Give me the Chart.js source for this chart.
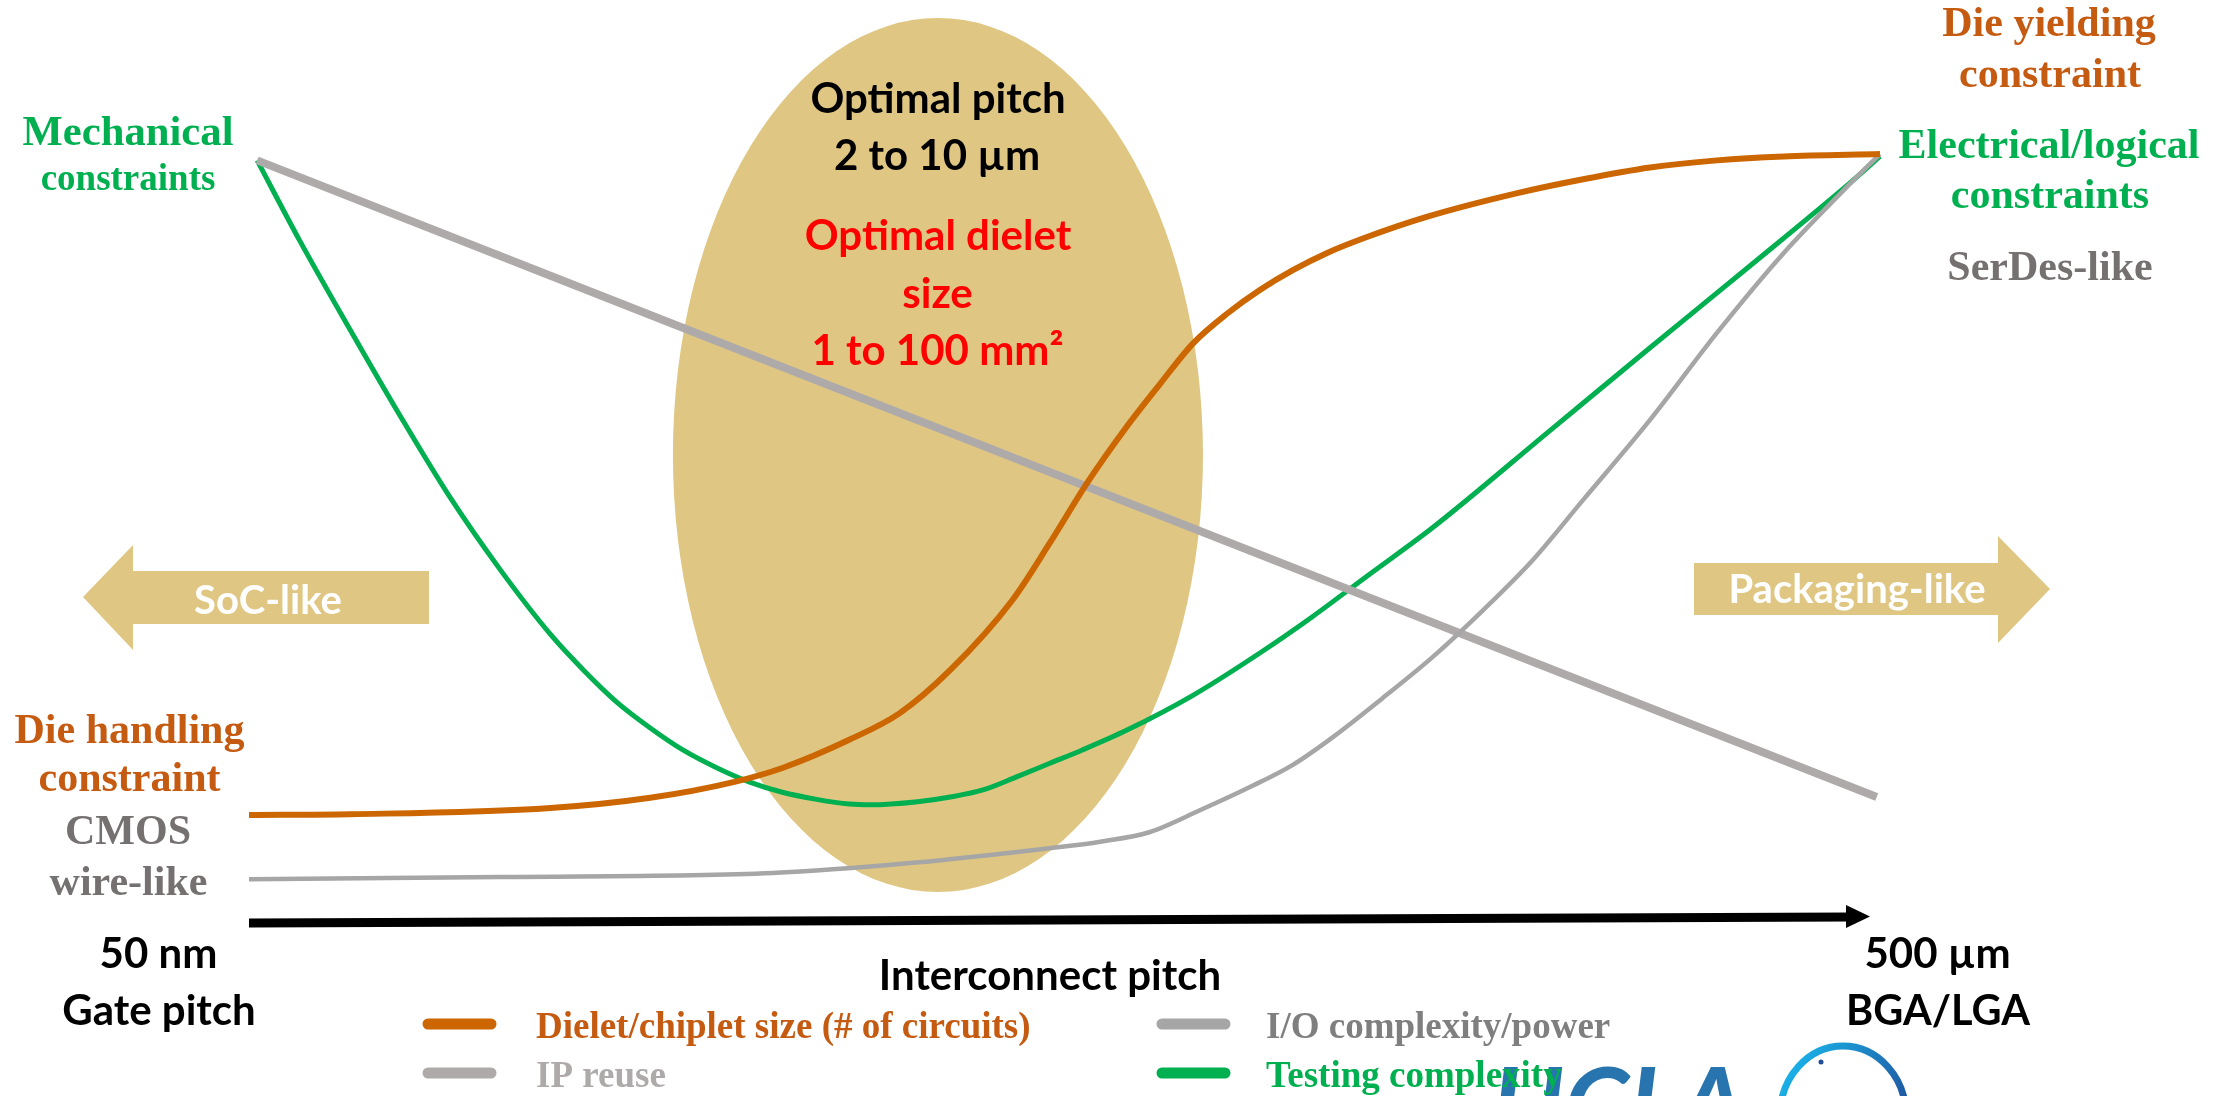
<!DOCTYPE html>
<html>
<head>
<meta charset="utf-8">
<script src="https://cdn.jsdelivr.net/npm/chart.js@4.4.1/dist/chart.umd.min.js"></script>
<style>
  html, body { margin: 0; padding: 0; background: #fff; }
  #wrap { width: 2235px; height: 1096px; }
</style>
</head>
<body>
<div id="wrap"><canvas id="chart" width="2235" height="1096"></canvas></div>
<script>
// values: [x, y]
// x = position along the interconnect pitch axis (0 = 50 nm, 100 = 500 µm), y = relative level (0..100)
const dieletSize = [[0, 13.9], [6.2, 14], [18.5, 14.8], [24.6, 16.1], [29.7, 18.1], [32.7, 19.9], [36.8, 23.5], [39.9, 26.9], [43, 32.4], [46.8, 41.3], [49.1, 48.6], [51.4, 56.3], [53.8, 63.4], [55.9, 69], [57.9, 74.1], [60, 77.9], [62, 80.9], [64, 83.4], [66.1, 85.6], [68.5, 87.6], [72.2, 90.2], [77.7, 93.2], [81.8, 95], [85.9, 96.5], [90, 97.4], [94.1, 97.9], [100, 98.2]]
const ioComplexity = [[0, 5.7], [15.4, 6], [32.1, 6.5], [40.7, 7.8], [49.2, 9.7], [52.2, 10.5], [55.2, 11.7], [58.3, 14.5], [61.4, 17.5], [64, 20.3], [66.5, 23.9], [69.5, 28.8], [72.6, 34.1], [75.7, 40.1], [78.7, 46.4], [81.8, 54.1], [85.9, 64.3], [90, 75.4], [94.1, 85.6], [98.2, 94.5], [100, 98.2]]
const ipReuse = [[0.5, 97.4], [99.8, 16.2]]
const testingComplexity = [[0.5, 97.4], [3.1, 87.2], [6.2, 75.8], [9.3, 64.7], [12.3, 54.5], [15.4, 45.2], [18.5, 36.9], [20.5, 32.4], [22.6, 28.2], [24.6, 25], [26.6, 22.2], [28.7, 19.9], [30.7, 18.1], [32.7, 16.8], [34.8, 15.9], [36.8, 15.3], [38.1, 15.2], [41, 15.6], [43, 16.2], [45, 17.1], [47.1, 18.8], [49.1, 20.5], [51.1, 22.2], [53.8, 24.7], [57.9, 29.2], [62, 34.6], [65.2, 39.2], [68.5, 44.3], [72.6, 50.6], [79.8, 63], [85.9, 73.5], [92, 83.9], [98.2, 94.6], [100, 97.9]]

const seriesLabels = ['Dielet/chiplet size (# of circuits)', 'I/O complexity/power', 'IP reuse', 'Testing complexity']
const axisLabels = { left: ['50 nm', 'Gate pitch'], right: ['500 µm', 'BGA/LGA'], title: 'Interconnect pitch' }

// optimal zone, in data units
const optimalZone = { x: 42.24, y: 59.82, rx: 16.25, ry: 55.74 }

const TAN = '#DFC783'
const SERIF = '"Liberation Serif", "Times New Roman", serif'
const SANS = 'Lato, "Open Sans", sans-serif'

const toPts = arr => arr.map(([x, y]) => ({ x, y }))

function txt(ctx, s, x, y, font, color, maxW, align) {
  ctx.font = font
  ctx.fillStyle = color
  ctx.textAlign = align || 'center'
  ctx.textBaseline = 'alphabetic'
  if (maxW) ctx.fillText(s, x, y, maxW)
  else ctx.fillText(s, x, y)
}

function poly(ctx, pts, color) {
  ctx.beginPath()
  pts.forEach(([x, y], i) => (i ? ctx.lineTo(x, y) : ctx.moveTo(x, y)))
  ctx.closePath()
  ctx.fillStyle = color
  ctx.fill()
}

const slideDecor = {
  id: 'slideDecor',
  beforeDatasetsDraw(chart) {
    const { ctx, scales: { x, y } } = chart
    ctx.save()
    // optimal pitch ellipse
    const cx = x.getPixelForValue(optimalZone.x)
    const cy = y.getPixelForValue(optimalZone.y)
    const rx = x.getPixelForValue(optimalZone.x + optimalZone.rx) - cx
    const ry = cy - y.getPixelForValue(optimalZone.y + optimalZone.ry)
    ctx.beginPath()
    ctx.ellipse(cx, cy, rx, ry, 0, 0, Math.PI * 2)
    ctx.fillStyle = TAN
    ctx.fill()

    // SoC-like / Packaging-like arrows
    poly(ctx, [[83, 597], [133, 545], [133, 571], [429, 571], [429, 624], [133, 624], [133, 650]], TAN)
    poly(ctx, [[1694, 563], [1998, 563], [1998, 536], [2050, 589], [1998, 643], [1998, 615], [1694, 615]], TAN)
    txt(ctx, 'SoC-like', 268, 614, 'bold 40px ' + SANS, '#fff', 158)
    txt(ctx, 'Packaging-like', 1857, 603, 'bold 40px ' + SANS, '#fff', 284)

    // axis arrow
    ctx.beginPath()
    ctx.moveTo(249, 923)
    ctx.lineTo(1850, 917)
    ctx.lineWidth = 9
    ctx.strokeStyle = '#000'
    ctx.stroke()
    poly(ctx, [[1846, 905], [1870, 916.5], [1846, 928]], '#000')
    ctx.restore()
  },
  afterDraw(chart) {
    const { ctx } = chart
    ctx.save()
    // ellipse text
    txt(ctx, 'Optimal pitch', 938, 113, 'bold 42px ' + SANS, '#000', 270)
    txt(ctx, '2 to 10 µm', 937, 170, 'bold 42px ' + SANS, '#000', 212)
    txt(ctx, 'Optimal dielet', 938, 250, 'bold 42px ' + SANS, '#FF0000', 284)
    txt(ctx, 'size', 937.5, 308, 'bold 42px ' + SANS, '#FF0000', 73)
    txt(ctx, '1 to 100 mm²', 937.5, 365, 'bold 42px ' + SANS, '#FF0000', 265)

    // end-point notes
    const f42 = 'bold 42px ' + SERIF
    txt(ctx, 'Mechanical', 128, 145, 'bold 43px ' + SERIF, '#00B050', 211)
    txt(ctx, 'constraints', 128, 190, 'bold 37px ' + SERIF, '#00B050', 176)
    txt(ctx, 'Die yielding', 2049, 36, f42, '#C55A11')
    txt(ctx, 'constraint', 2050, 87, f42, '#C55A11')
    txt(ctx, 'Electrical/logical', 2049, 158, f42, '#00B050')
    txt(ctx, 'constraints', 2050, 208, f42, '#00B050')
    txt(ctx, 'SerDes-like', 2050, 280, f42, '#767171')
    txt(ctx, 'Die handling', 129.5, 743, f42, '#C55A11')
    txt(ctx, 'constraint', 129.5, 791, f42, '#C55A11')
    txt(ctx, 'CMOS', 128, 844, f42, '#767171')
    txt(ctx, 'wire-like', 128.5, 895, f42, '#767171')

    // axis labels
    txt(ctx, axisLabels.left[0], 158.5, 968, 'bold 42px ' + SANS, '#000', 121)
    txt(ctx, axisLabels.left[1], 159, 1025, 'bold 42px ' + SANS, '#000', 202)
    txt(ctx, axisLabels.right[0], 1937.5, 968, 'bold 42px ' + SANS, '#000', 147)
    txt(ctx, axisLabels.right[1], 1938, 1025, 'bold 42px ' + SANS, '#000', 184)
    txt(ctx, axisLabels.title, 1050, 990, 'bold 42px ' + SANS, '#000', 360)

    // logo peeking in at the bottom
    ctx.font = 'bold italic 104px ' + SANS
    ctx.fillStyle = '#2774AE'
    ctx.textAlign = 'left'
    ctx.fillText('UCLA', 1492, 1142)
    const g = ctx.createLinearGradient(1777, 1043, 1909, 1120)
    g.addColorStop(0, '#19C3F5')
    g.addColorStop(1, '#1F4E9A')
    ctx.beginPath()
    ctx.ellipse(1843, 1116, 63, 70, 0, 0, Math.PI * 2)
    ctx.lineWidth = 7
    ctx.strokeStyle = g
    ctx.stroke()
    ctx.beginPath()
    ctx.arc(1821, 1062, 2.5, 0, Math.PI * 2)
    ctx.fillStyle = '#1F4E9A'
    ctx.fill()

    // legend (two columns)
    const cols = [[428, 536], [1162, 1266], [428, 536], [1162, 1266]]
    const rows = [1024, 1024, 1073, 1073]
    chart.data.datasets.forEach((ds, i) => {
      const [sx, tx] = cols[i]
      ctx.beginPath()
      ctx.moveTo(sx, rows[i])
      ctx.lineTo(sx + 63, rows[i])
      ctx.lineWidth = 11
      ctx.lineCap = 'round'
      ctx.strokeStyle = ds.borderColor
      ctx.stroke()
      txt(ctx, ds.label, tx, rows[i] + 14, 'bold 37px ' + SERIF, ds.legendColor, null, 'left')
    })
    ctx.restore()
  },
}

const lineDefaults = { pointRadius: 0, fill: false, clip: false, cubicInterpolationMode: 'monotone', showLine: true }

const pitchConfig = {
  type: 'scatter',
  data: {
    datasets: [
      { ...lineDefaults, label: seriesLabels[0], data: toPts(dieletSize), borderColor: '#CC6600', legendColor: '#C55A11', borderWidth: 6 },
      { ...lineDefaults, label: seriesLabels[1], data: toPts(ioComplexity), borderColor: '#A6A6A6', legendColor: '#7F7F7F', borderWidth: 4.5 },
      { ...lineDefaults, label: seriesLabels[2], data: toPts(ipReuse), borderColor: '#AEAAAA', legendColor: '#AEAAAA', borderWidth: 8 },
      { ...lineDefaults, label: seriesLabels[3], data: toPts(testingComplexity), borderColor: '#00B050', legendColor: '#00B050', borderWidth: 5 },
    ],
  },
  options: {
    responsive: false,
    animation: false,
    devicePixelRatio: 1,
    layout: { padding: { left: 249, right: 355, top: 140, bottom: 172 } },
    plugins: { legend: { display: false }, tooltip: { enabled: false } },
    scales: {
      x: { type: 'linear', min: 0, max: 100, display: false },
      y: { type: 'linear', min: 0, max: 100, display: false },
    },
  },
  plugins: [slideDecor],
}

const pitchCtx = document.getElementById('chart')
window.pitchChart = new Chart(pitchCtx, pitchConfig)
</script>
</body>
</html>
